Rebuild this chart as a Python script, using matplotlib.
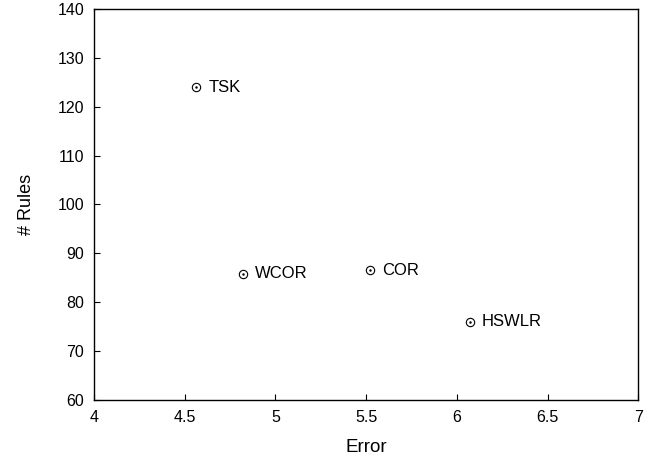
import matplotlib
matplotlib.use("Agg")
import matplotlib.pyplot as plt

methods = ["TSK", "WCOR", "COR", "HSWLR"]
error = [4.56, 4.82, 5.52, 6.07]
rules = [124.0, 85.8, 86.5, 76.0]

xticks = [4, 4.5, 5, 5.5, 6, 6.5, 7]
xticklabels = ["4", "4.5", "5", "5.5", "6", "6.5", "7"]
yticks = [60, 70, 80, 90, 100, 110, 120, 130, 140]

plt.rcParams["font.family"] = ["Liberation Sans", "DejaVu Sans"]

fig = plt.figure(figsize=(6.51, 4.58), dpi=100)
ax = fig.add_axes([0.1445, 0.127, 0.836, 0.853])

ax.plot(error, rules, linestyle="none", marker="o", markersize=6,
        markerfacecolor="none", markeredgecolor="black", markeredgewidth=0.8)
ax.plot(error, rules, linestyle="none", marker=".", markersize=1.5, color="black")

for m, x, y in zip(methods, error, rules):
    ax.annotate(m, (x, y), xytext=(9, 0), textcoords="offset points",
                va="center", ha="left", fontsize=12)

ax.set_xlim(4, 7)
ax.set_ylim(60, 140)
ax.set_xticks(xticks)
ax.set_xticklabels(xticklabels)
ax.set_yticks(yticks)
ax.tick_params(direction="in", length=4, labelsize=11.5, top=False, right=False, pad=7)
for s in ax.spines.values():
    s.set_linewidth(1.0)

ax.set_xlabel("Error", fontsize=13.5, labelpad=10.5)
ax.set_ylabel("# Rules", fontsize=13, labelpad=16.5)

fig.savefig("out.png", dpi=100)
